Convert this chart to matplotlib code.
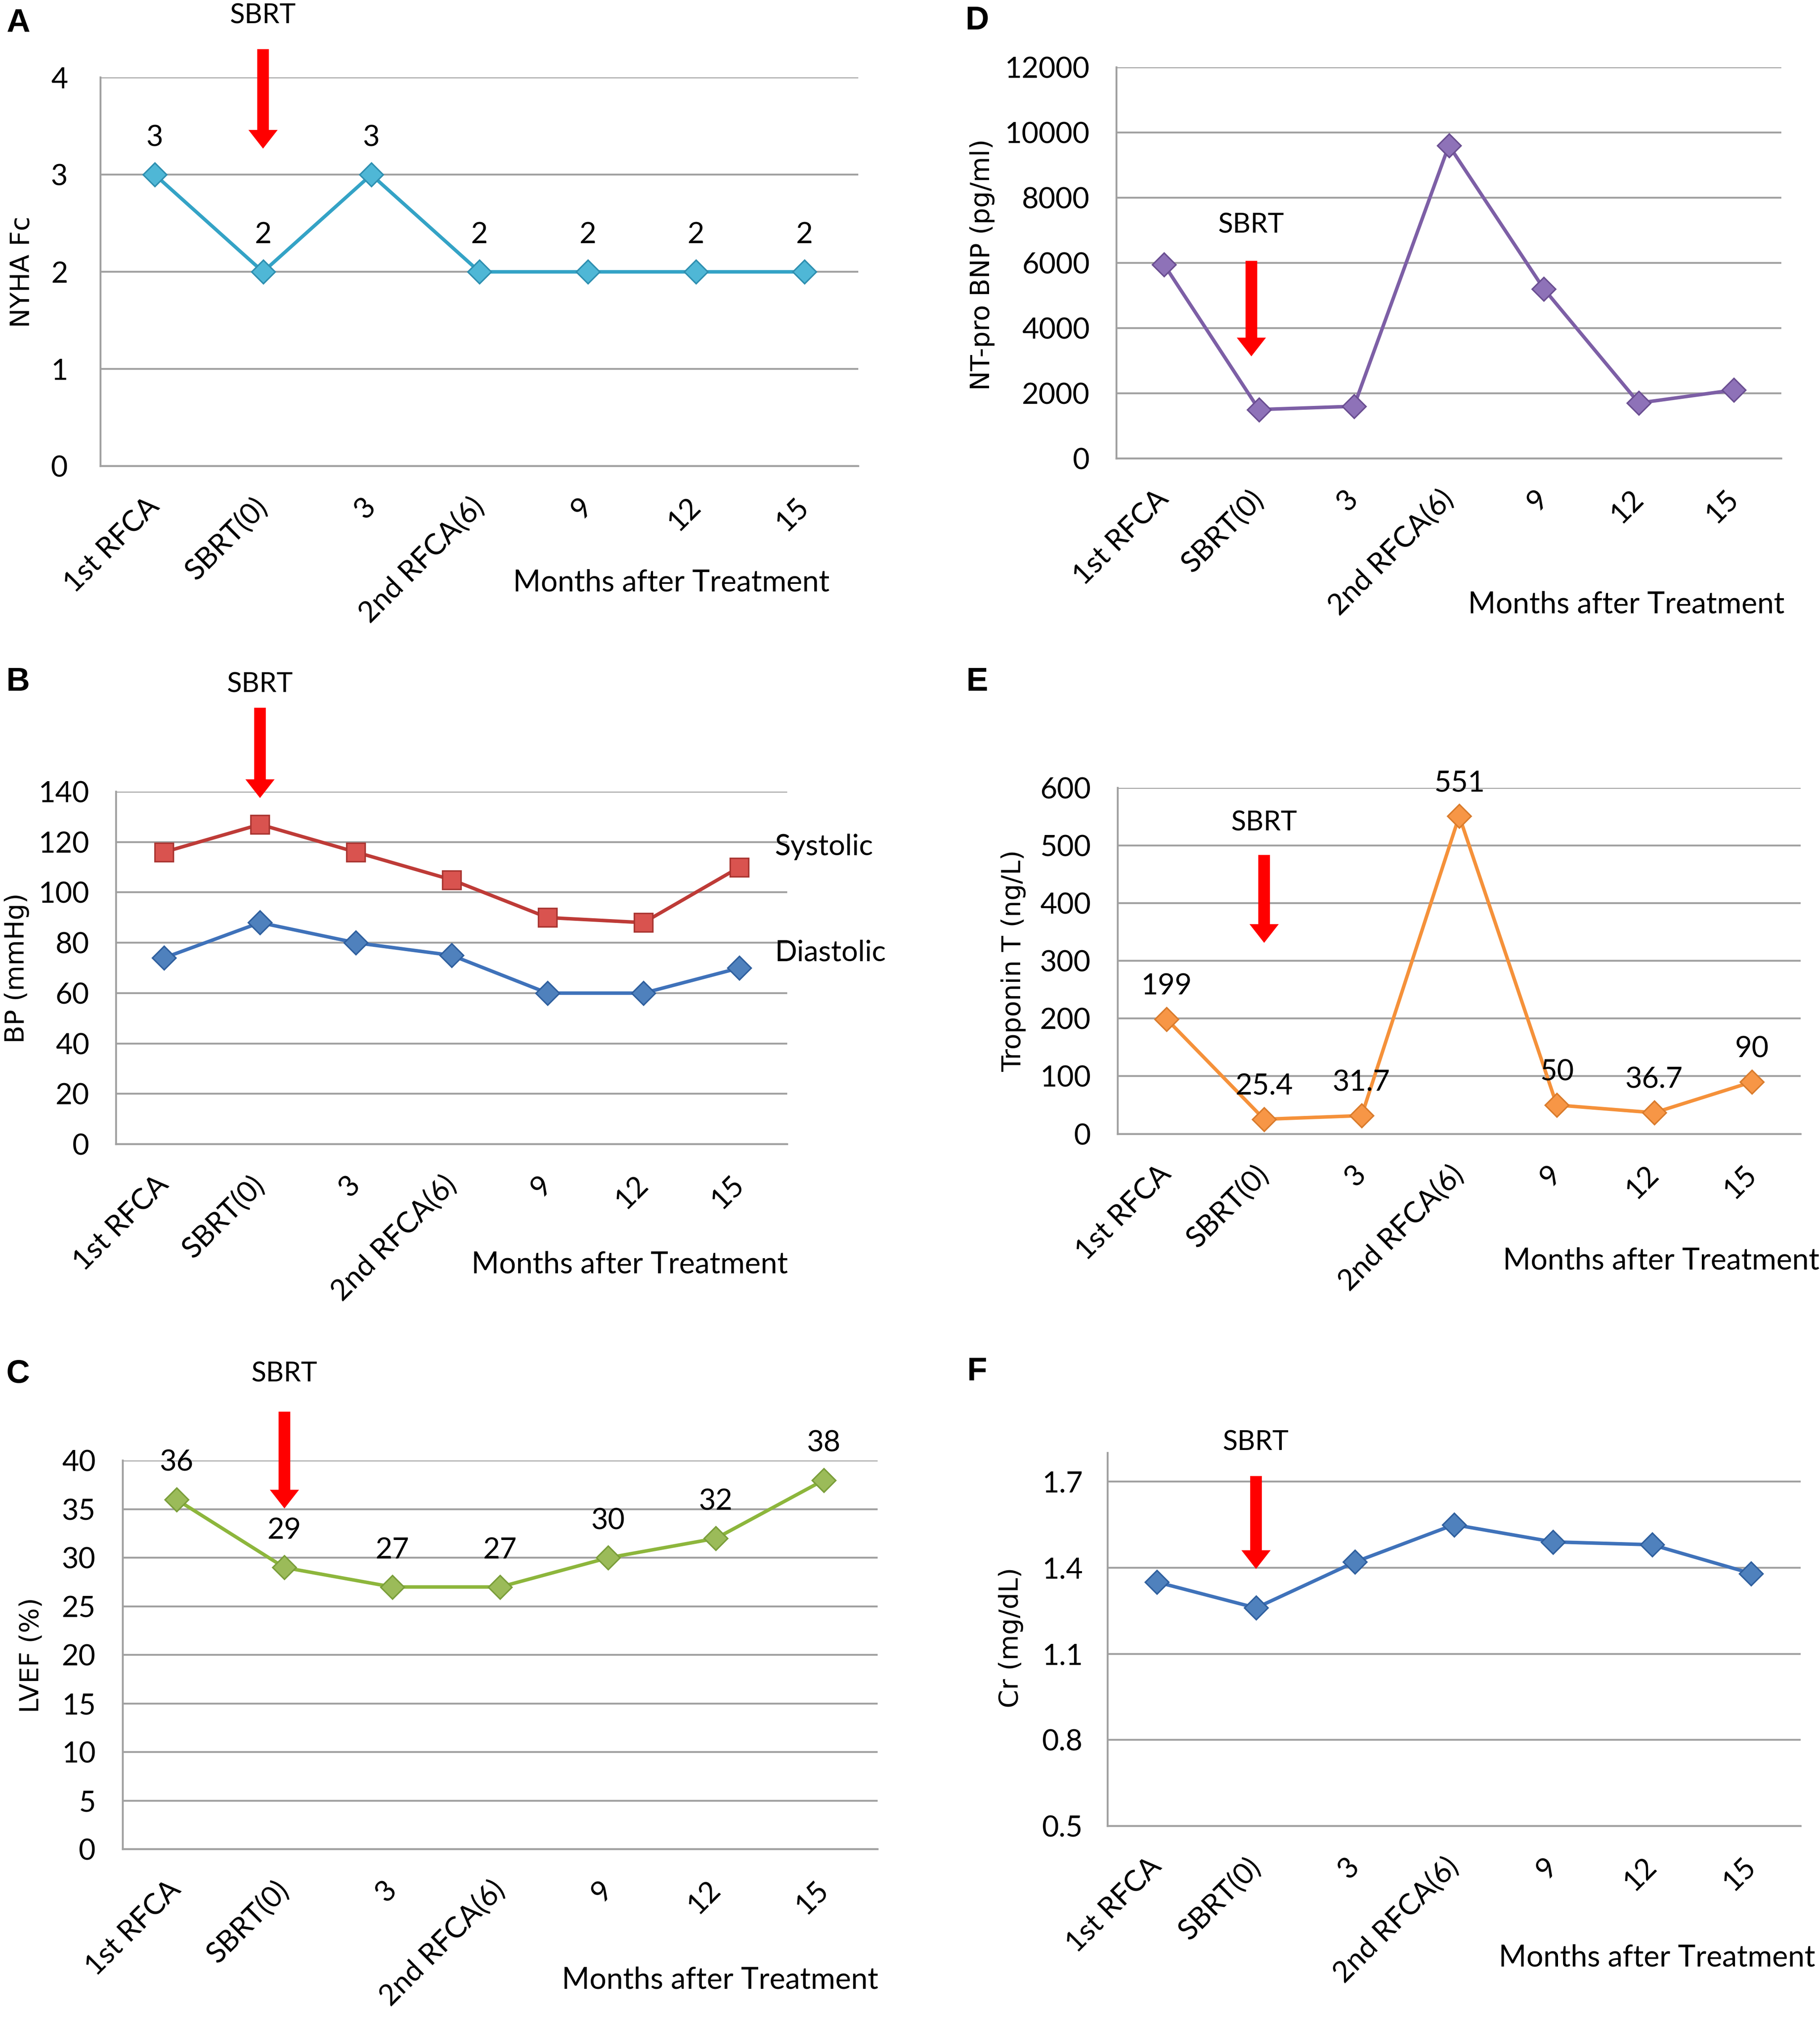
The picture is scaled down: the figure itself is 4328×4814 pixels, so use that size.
import matplotlib
matplotlib.use('Agg')
import matplotlib.pyplot as plt
from matplotlib.transforms import blended_transform_factory

# ---------------- data ----------------
categories = ['1st RFCA', 'SBRT(0)', '3', '2nd RFCA(6)', '9', '12', '15']
nyha = [3, 2, 3, 2, 2, 2, 2]
systolic = [116, 127, 116, 105, 90, 88, 110]
diastolic = [74, 88, 80, 75, 60, 60, 70]
lvef = [36, 29, 27, 27, 30, 32, 38]
ntprobnp = [5950, 1500, 1600, 9600, 5200, 1700, 2100]
troponin = [199, 25.4, 31.7, 551, 50, 36.7, 90]
troponin_labels = ['199', '25.4', '31.7', '551', '50', '36.7', '90']
creatinine = [1.35, 1.26, 1.42, 1.55, 1.49, 1.48, 1.38]

nyha_ticks = [0, 1, 2, 3, 4]
bp_ticks = [0, 20, 40, 60, 80, 100, 120, 140]
lvef_ticks = [0, 5, 10, 15, 20, 25, 30, 35, 40]
bnp_ticks = [0, 2000, 4000, 6000, 8000, 10000, 12000]
trop_ticks = [0, 100, 200, 300, 400, 500, 600]
cr_ticks = [0.5, 0.8, 1.1, 1.4, 1.7]
cr_ticklabels = ['0.5', '0.8', '1.1', '1.4', '1.7']

# ---------------- style ----------------
TF = ['Lato', 'DejaVu Sans']
LF = ['DejaVu Sans']
GRID = '#A0A0A0'
TICKFS = 50
LABFS = 45
W, H = 1410.0, 1568.0

fig = plt.figure(figsize=(43.28, 48.14), dpi=100)


def rect(x0, y0, x1, y1):
    return [x0 / W, 1 - y1 / H, (x1 - x0) / W, (y1 - y0) / H]


def setup(ax, ylim, yticks, ylabel, ylab_xy, months_xy, ypad, yticklabels=None):
    ax.set_xlim(-0.5, 6.5)
    ax.set_ylim(*ylim)
    ax.set_yticks(yticks)
    if yticklabels is not None:
        ax.set_yticklabels(yticklabels)
    ax.grid(axis='y', color=GRID, lw=3.2)
    ax.set_axisbelow(True)
    for s in ['top', 'right']:
        ax.spines[s].set_visible(False)
    for s in ['left', 'bottom']:
        ax.spines[s].set_color(GRID)
        ax.spines[s].set_linewidth(3.2)
    ax.set_xticks(range(len(categories)))
    ax.set_xticklabels(categories, rotation=45, ha='right', va='center',
                       rotation_mode='anchor', fontsize=TICKFS, family=TF)
    ax.tick_params(axis='x', length=0, pad=62)
    ax.tick_params(axis='y', length=0, pad=ypad, labelsize=TICKFS)
    for t in ax.get_yticklabels():
        t.set_family(TF)
    ax.set_ylabel(ylabel, fontsize=LABFS, family=LF)
    ax.yaxis.set_label_coords(*ylab_xy)
    ax.text(months_xy[0], months_xy[1], 'Months after Treatment', transform=ax.transAxes,
            ha='center', va='center', fontsize=TICKFS + 1, family=TF)


def sbrt(ax, x, ytext, ytail, ytip):
    tr = blended_transform_factory(ax.transData, ax.transAxes)
    ax.text(x, ytext, 'SBRT', transform=tr, ha='center', va='center', fontsize=TICKFS - 3, family=TF)
    ax.annotate('', xy=(x, ytip), xycoords=tr, xytext=(x, ytail), textcoords=tr,
                arrowprops=dict(facecolor='#FF0000', edgecolor='none', width=20,
                                headwidth=50, headlength=32, shrink=0),
                annotation_clip=False)


def series(ax, vals, lc, mc, ec, marker='D', ms=29):
    ax.plot(range(len(vals)), vals, color=lc, lw=6, marker=marker, ms=ms,
            markerfacecolor=mc, markeredgecolor=ec, markeredgewidth=2.5, clip_on=False, zorder=3)


def labels(ax, vals, texts, off=60):
    for i, (v, t) in enumerate(zip(vals, texts)):
        ax.annotate(t, (i, v), xytext=(0, off), textcoords='offset points', ha='center',
                    va='center', fontsize=TICKFS, family=TF, zorder=4)


# ---------------- A ----------------
axA = fig.add_axes(rect(78, 60, 665, 361))
setup(axA, (0, 4), nyha_ticks, 'NYHA Fc', (-0.087, 0.5), (0.753, -0.299), 56)
series(axA, nyha, '#34A3C6', '#4FB7D6', '#2E8FB0')
labels(axA, nyha, [str(v) for v in nyha], off=63)
sbrt(axA, 1, 1.159, 1.073, 0.817)

# ---------------- B ----------------
axB = fig.add_axes(rect(90, 613, 610, 886))
setup(axB, (0, 140), bp_ticks, 'BP (mmHg)', (-0.129, 0.5), (0.765, -0.341), 46)
series(axB, systolic, '#BE3B37', '#D9534F', '#A83430', marker='s', ms=31)
series(axB, diastolic, '#3F72BA', '#4F81BD', '#2F5F9E')
axB.text(6.37, 118, 'Systolic', ha='left', va='center', fontsize=TICKFS, family=TF)
axB.text(6.37, 76, 'Diastolic', ha='left', va='center', fontsize=TICKFS, family=TF)
sbrt(axB, 1, 1.304, 1.238, 0.982)

# ---------------- C ----------------
axC = fig.add_axes(rect(95, 1131, 680, 1432))
setup(axC, (0, 40), lvef_ticks, 'LVEF (%)', (-0.104, 0.5), (0.791, -0.336), 46)
series(axC, lvef, '#8DB63C', '#9BBB59', '#7A9E3A')
labels(axC, lvef, [str(v) for v in lvef], off=63)
sbrt(axC, 1, 1.223, 1.126, 0.877)

# ---------------- D ----------------
axD = fig.add_axes(rect(865, 52, 1380, 355))
setup(axD, (0, 12000), bnp_ticks, 'NT-pro BNP (pg/ml)', (-0.183, 0.495), (0.767, -0.373), 46)
series(axD, ntprobnp, '#7D5FA6', '#8E72B8', '#6A4E91')
sbrt(axD, 0.92, 0.597, 0.505, 0.261)

# ---------------- E ----------------
axE = fig.add_axes(rect(866, 610, 1395, 878))
setup(axE, (0, 600), trop_ticks, 'Troponin T (ng/L)', (-0.134, 0.5), (0.796, -0.366), 46)
series(axE, troponin, '#F5913A', '#F79646', '#D97B2C')
labels(axE, troponin, troponin_labels, off=56)
sbrt(axE, 1, 0.899, 0.806, 0.552)

# ---------------- F ----------------
axF = fig.add_axes(rect(858, 1125, 1395, 1414))
setup(axF, (0.5, 1.8), cr_ticks, 'Cr (mg/dL)', (-0.121, 0.505), (0.793, -0.353), 42,
      yticklabels=cr_ticklabels)
series(axF, creatinine, '#3F72BA', '#4F81BD', '#2F5F9E')
sbrt(axF, 1, 1.028, 0.938, 0.689)

# panel letters
for letter, (x, y) in zip('ABCDEF', [(14, 18), (14, 528), (14, 1064), (757, 16), (757, 528), (757, 1062)]):
    fig.text(x / W, 1 - y / H, letter, ha='center', va='center', fontsize=56,
             fontweight='bold', family=['Liberation Sans', 'DejaVu Sans'])

fig.savefig('out.png', dpi=100, facecolor='white')
